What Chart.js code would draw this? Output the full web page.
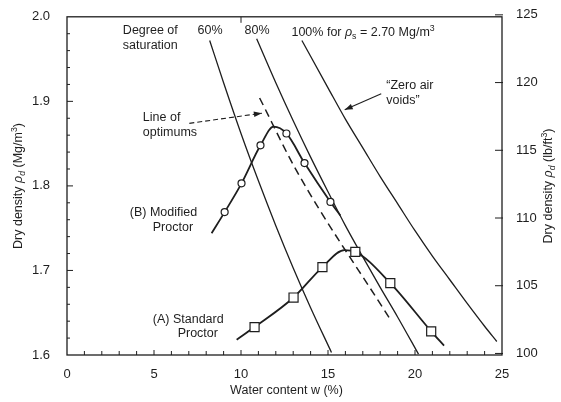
<!DOCTYPE html>
<html>
<head>
<meta charset="utf-8">
<script src="https://cdn.jsdelivr.net/npm/chart.js@4.4.1/dist/chart.umd.min.js"></script>
<style>
  html,body{margin:0;padding:0;background:#fff;}
</style>
</head>
<body>
<canvas id="chart" width="561" height="402"></canvas>
<script>
// Axis ticks
const xTicks = [0, 5, 10, 15, 20, 25];
const yTicks = [1.6, 1.7, 1.8, 1.9, 2.0];
const yRightTicks = [100, 105, 110, 115, 120, 125];
const LB_PER_MG = 62.428; // 1 Mg/m3 in lb/ft3

// (B) Modified Proctor - water content w (%) and dry density (Mg/m3)
const modifiedW        = [8.31, 9.06, 10.03, 11.12, 11.87, 12.61, 13.65, 15.14, 15.71];
const modifiedRho      = [1.744, 1.769, 1.803, 1.848, 1.870, 1.862, 1.827, 1.781, 1.765];
const modifiedMeasured = [false, true, true, true, false, true, true, true, false];

// (A) Standard Proctor
const standardW        = [9.75, 10.78, 13.02, 14.68, 15.94, 16.57, 18.58, 20.93, 21.67];
const standardRho      = [1.618, 1.633, 1.668, 1.704, 1.724, 1.722, 1.685, 1.628, 1.611];
const standardMeasured = [false, true, true, true, false, true, true, true, false];

// Line of optimums
const optimumsW   = [11.07, 13.19, 18.52];
const optimumsRho = [1.904, 1.818, 1.644];

// Degree of saturation lines
const sat60W    = [8.2, 9, 10, 11, 12, 13, 14, 15.2];
const sat60Rho  = [1.972, 1.922, 1.862, 1.806, 1.753, 1.703, 1.656, 1.603];
const sat80W    = [10.9, 12, 13, 14, 15, 16, 17, 18, 19, 20.2];
const sat80Rho  = [1.974, 1.922, 1.877, 1.834, 1.793, 1.753, 1.716, 1.680, 1.645, 1.601];
const sat100W   = [13.5, 15, 16, 17, 18, 19, 20, 21, 22, 23, 24, 24.7];
const sat100Rho = [1.972, 1.916, 1.879, 1.845, 1.811, 1.779, 1.747, 1.717, 1.689, 1.661, 1.634, 1.616];

const INK = "#1e1e1e";
const FONT = '"Liberation Sans", Arial, sans-serif';

function pts(xs, ys){ return xs.map((x, i) => ({x: x, y: ys[i]})); }

function satLine(xs, ys){
  return {data: pts(xs, ys), showLine: true, borderColor: INK, borderWidth: 1.3,
    pointRadius: 0, cubicInterpolationMode: "monotone"};
}

// text with italic / sub / sup pieces
function richWidth(ctx, parts, size){
  let w = 0;
  parts.forEach(p => {
    const s = (p.sub || p.sup) ? size * 0.7 : size;
    ctx.font = (p.it ? "italic " : "") + s + "px " + FONT;
    w += ctx.measureText(p.t).width;
  });
  return w;
}
function richText(ctx, x, y, parts, size){
  let cx = x;
  parts.forEach(p => {
    const s = (p.sub || p.sup) ? size * 0.7 : size;
    ctx.font = (p.it ? "italic " : "") + s + "px " + FONT;
    const dy = p.sub ? size * 0.3 : p.sup ? -size * 0.35 : 0;
    ctx.fillText(p.t, cx, y + dy);
    cx += ctx.measureText(p.t).width;
  });
}

function arrow(ctx, x1, y1, x2, y2, dash){
  ctx.save();
  ctx.setLineDash(dash || []);
  ctx.lineWidth = 1.1;
  ctx.beginPath(); ctx.moveTo(x1, y1); ctx.lineTo(x2, y2); ctx.stroke();
  ctx.setLineDash([]);
  const a = Math.atan2(y2 - y1, x2 - x1);
  ctx.beginPath();
  ctx.moveTo(x2, y2);
  ctx.lineTo(x2 - 8 * Math.cos(a) + 2.8 * Math.sin(a), y2 - 8 * Math.sin(a) - 2.8 * Math.cos(a));
  ctx.lineTo(x2 - 8 * Math.cos(a) - 2.8 * Math.sin(a), y2 - 8 * Math.sin(a) + 2.8 * Math.cos(a));
  ctx.closePath(); ctx.fill();
  ctx.restore();
}

// Frame, inward ticks, labels and arrows
const decor = {
  id: "decor",
  afterDraw(chart){
    const {ctx, chartArea: a, scales} = chart;
    const X = v => scales.x.getPixelForValue(v);
    const Y = v => scales.y.getPixelForValue(v);
    ctx.save();
    ctx.strokeStyle = INK; ctx.fillStyle = INK; ctx.lineWidth = 1.3;
    ctx.strokeRect(a.left, a.top, a.right - a.left, a.bottom - a.top);

    ctx.lineWidth = 1;
    ctx.beginPath();
    for(let w = 1; w < 25; w++){
      ctx.moveTo(X(w), a.bottom); ctx.lineTo(X(w), a.bottom - (w % 5 === 0 ? 5 : 4));
    }
    ctx.moveTo(X(10), a.top); ctx.lineTo(X(10), a.top + 6);
    for(let i = 1; i < 20; i++){
      const py = Y(1.6 + 0.02 * i);
      ctx.moveTo(a.left, py); ctx.lineTo(a.left + (i % 5 === 0 ? 6 : 3), py);
    }
    yRightTicks.forEach(v => {
      const py = scales.y2.getPixelForValue(v);
      ctx.moveTo(a.right - 7, py); ctx.lineTo(a.right + 1, py);
    });
    ctx.stroke();

    // annotations
    const size = 12.5;
    ctx.textBaseline = "middle"; ctx.textAlign = "left";
    ctx.font = size + "px " + FONT;
    const txt = (s, w, r) => ctx.fillText(s, X(w), Y(r));
    txt("Degree of", 3.21, 1.9835);
    txt("saturation", 3.21, 1.966);
    txt("60%", 7.5, 1.9835);
    txt("80%", 10.2, 1.9835);
    txt("\u201CZero air", 18.35, 1.9186);
    txt("voids\u201D", 18.35, 1.901);
    txt("Line of", 4.36, 1.8808);
    txt("optimums", 4.36, 1.8631);
    txt("(B) Modified", 3.61, 1.7687);
    txt("Proctor", 4.93, 1.751);
    txt("(A) Standard", 4.93, 1.6425);
    txt("Proctor", 6.36, 1.6248);
    richText(ctx, X(12.9), Y(1.981), [
      {t: "100% for "}, {t: "\u03C1", it: true}, {t: "s", sub: true},
      {t: " = 2.70 Mg/m"}, {t: "3", sup: true}], size);

    arrow(ctx, X(7.03), Y(1.874), X(11.2), Y(1.886), [5, 3]);
    arrow(ctx, X(18.06), Y(1.909), X(15.96), Y(1.890));

    // axis titles
    ctx.font = size + "px " + FONT;
    ctx.textAlign = "center";
    ctx.fillText("Water content w (%)", (a.left + a.right) / 2 + 2, 391);

    const leftTitle = [{t: "Dry density "}, {t: "\u03C1", it: true}, {t: "d", sub: true, it: true},
      {t: " (Mg/m"}, {t: "3", sup: true}, {t: ")"}];
    const rightTitle = [{t: "Dry density "}, {t: "\u03C1", it: true}, {t: "d", sub: true, it: true},
      {t: " (lb/ft"}, {t: "3", sup: true}, {t: ")"}];
    ctx.textAlign = "left";
    [[leftTitle, 19, 186], [rightTitle, 549, 186]].forEach(([parts, cx, cy]) => {
      const w = richWidth(ctx, parts, size);
      ctx.save();
      ctx.translate(cx, cy); ctx.rotate(-Math.PI / 2);
      richText(ctx, -w / 2, 0, parts, size);
      ctx.restore();
    });
    ctx.restore();
  }
};

const tickFont = {family: FONT, size: 13};

new Chart(document.getElementById("chart"), {
  type: "scatter",
  data: {
    datasets: [
      {data: pts(modifiedW, modifiedRho), showLine: true, borderColor: INK, borderWidth: 1.8,
        cubicInterpolationMode: "monotone", pointStyle: "circle",
        pointRadius: c => modifiedMeasured[c.dataIndex] ? 3.5 : 0,
        pointBackgroundColor: "#fff", pointBorderColor: INK, pointBorderWidth: 1.2},
      {data: pts(standardW, standardRho), showLine: true, borderColor: INK, borderWidth: 1.8,
        cubicInterpolationMode: "monotone", pointStyle: "rect",
        pointRadius: c => standardMeasured[c.dataIndex] ? 6.4 : 0,
        pointBackgroundColor: "#fff", pointBorderColor: INK, pointBorderWidth: 1.2},
      {data: pts(optimumsW, optimumsRho), showLine: true, borderColor: INK, borderWidth: 1.5,
        borderDash: [8, 5], pointRadius: 0, cubicInterpolationMode: "monotone"},
      satLine(sat60W, sat60Rho),
      satLine(sat80W, sat80Rho),
      satLine(sat100W, sat100Rho)
    ]
  },
  options: {
    responsive: false,
    animation: false,
    layout: {padding: {top: 16, left: 0, right: 0, bottom: 0}},
    plugins: {legend: {display: false}, tooltip: {enabled: false}},
    scales: {
      x: {
        type: "linear", min: 0, max: 25,
        afterBuildTicks: s => { s.ticks = xTicks.map(v => ({value: v})); },
        afterFit: s => { s.height = 47; },
        grid: {display: false}, border: {display: false},
        ticks: {padding: 4, color: INK, font: tickFont, maxRotation: 0}
      },
      y: {
        position: "left", min: 1.6, max: 2.0,
        afterBuildTicks: s => { s.ticks = yTicks.map(v => ({value: v})); },
        afterFit: s => { s.width = 67; },
        grid: {display: false}, border: {display: false},
        ticks: {padding: 9, color: INK, font: tickFont, callback: v => v.toFixed(1)}
      },
      y2: {
        position: "right", min: 1.6 * LB_PER_MG, max: 2.0 * LB_PER_MG,
        afterBuildTicks: s => { s.ticks = yRightTicks.map(v => ({value: v})); },
        afterFit: s => { s.width = 59; },
        grid: {display: false}, border: {display: false},
        ticks: {padding: 6, color: INK, font: tickFont}
      }
    }
  },
  plugins: [decor]
});
</script>
</body>
</html>
